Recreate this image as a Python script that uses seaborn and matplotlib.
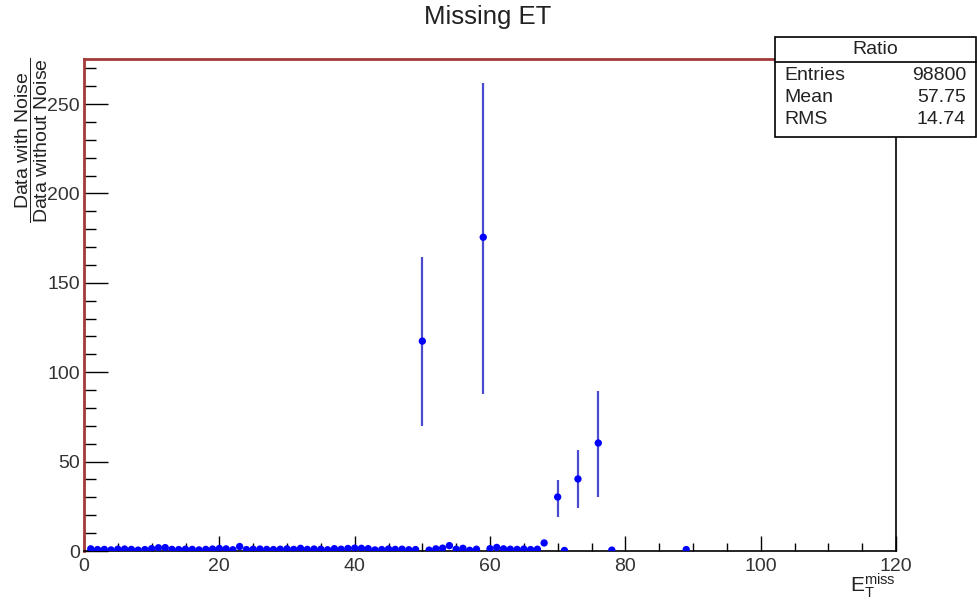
import matplotlib.pyplot as plt
from matplotlib.patches import Rectangle
from matplotlib.ticker import MultipleLocator
import numpy as np
import pandas as pd
import seaborn as sns

# bin centres and ratio values
low_x = list(range(1, 50)) + list(range(51, 59)) + list(range(60, 68))
low_y = [1.2, 0.8, 0.9, 0.6, 1.0, 1.1, 0.9, 0.5, 0.8, 1.3,
         1.8, 1.9, 0.9, 0.8, 1.0, 0.9, 0.6, 0.9, 1.1, 1.4,
         1.2, 0.7, 2.5, 0.8, 1.0, 1.1, 0.9, 0.8, 1.0, 1.2,
         0.9, 1.5, 0.9, 1.1, 1.0, 0.7, 1.3, 1.0, 1.4, 1.6,
         1.5, 1.3, 0.6, 0.8, 1.1, 0.9, 1.0, 0.7, 0.8,
         0.5, 1.2, 1.6, 3.0, 1.0, 1.5, 0.4, 1.0,
         1.3, 2.0, 1.2, 1.0, 0.9, 1.1, 0.8, 1.0]
high_x = [50, 59, 68, 70, 71, 73, 76, 78, 89]
high_y = [117.4, 175.5, 4.5, 30.2, 0.3, 40.3, 60.4, 0.5, 0.8]
err_lo = [69.9, 87.8, 4.5, 19.0, 0.3, 24.0, 30.2, 0.5, 0.8]
err_hi = [164.4, 261.7, 4.5, 39.7, 0.3, 56.5, 89.5, 0.5, 0.8]

stats_names = ["Entries", "Mean", "RMS"]
stats_vals = ["98800", "57.75", "14.74"]

df = pd.DataFrame({"x": low_x + high_x, "y": low_y + high_y})

sns.set_style("white")
plt.rcParams["font.family"] = ["Liberation Sans", "DejaVu Sans"]
plt.rcParams["mathtext.fontset"] = "custom"
plt.rcParams["mathtext.rm"] = "Liberation Sans"
plt.rcParams["mathtext.it"] = "Liberation Sans"

W, H = 977, 601
fig = plt.figure(figsize=(W / 100, H / 100), dpi=100)
ax = fig.add_axes([84 / W, 1 - 551 / H, (896 - 84) / W, (551 - 59) / H])

ax.vlines(high_x, err_lo, err_hi, color="#4a4ad0", linewidth=1.6, zorder=2)
sns.scatterplot(data=df, x="x", y="y", ax=ax, color="#0000ff", s=28,
                edgecolor="none", zorder=3)

ax.set_xlim(0, 120)
ax.set_ylim(0, 275.2)
ax.xaxis.set_major_locator(MultipleLocator(20))
ax.xaxis.set_minor_locator(MultipleLocator(5))
ax.yaxis.set_major_locator(MultipleLocator(50))
ax.yaxis.set_minor_locator(MultipleLocator(10))
ax.tick_params(axis="both", which="both", direction="in", bottom=True,
               left=True, top=False, right=False, color="black")
ax.tick_params(axis="both", which="major", labelsize=14, labelcolor="#333333")
ax.tick_params(axis="x", which="major", length=11, width=1, pad=5)
ax.tick_params(axis="x", which="minor", length=5.5, width=1)
ax.tick_params(axis="y", which="major", length=17.5, width=1, pad=3)
ax.tick_params(axis="y", which="minor", length=8.7, width=1)
ax.set_xlabel("")
ax.set_ylabel("")

for side in ["bottom", "right"]:
    ax.spines[side].set_color("black")
    ax.spines[side].set_linewidth(1.2)
for side in ["left", "top"]:
    ax.spines[side].set_color("#a33a3a")
    ax.spines[side].set_linewidth(2)

fig.text(488 / W, 1 - 17 / H, "Missing ET", ha="center", va="center",
         fontsize=18.5, color="#222222")
fig.text(32 / W, 1 - 140 / H,
         r"$\dfrac{\mathrm{Data\ with\ Noise}}{\mathrm{Data\ without\ Noise}}$",
         rotation=90, ha="center", va="center", fontsize=14, color="#222222")
fig.text(896 / W, 1 - 586 / H, r"$\mathrm{E}_{\mathrm{T}}^{\mathrm{miss}}$",
         ha="right", va="center", fontsize=15, color="#222222")

# stats box
bx0, bx1, by0, by1, bsep = 775, 976, 37, 137, 62
fig.patches.append(Rectangle((bx0 / W, 1 - by1 / H), (bx1 - bx0) / W,
                             (by1 - by0) / H, transform=fig.transFigure,
                             facecolor="white", edgecolor="black",
                             linewidth=1.2, zorder=5))
fig.lines.append(plt.Line2D([bx0 / W, bx1 / W], [1 - bsep / H, 1 - bsep / H],
                            transform=fig.transFigure, color="black",
                            linewidth=1.2, zorder=6))
fig.text((bx0 + bx1) / 2 / W, 1 - 50 / H, "Ratio", ha="center", va="center",
         fontsize=14, color="#222222", zorder=7)
for i, (name, val) in enumerate(zip(stats_names, stats_vals)):
    yy = 1 - (75 + i * 22) / H
    fig.text(784 / W, yy, name, ha="left", va="center", fontsize=14,
             color="#222222", zorder=7)
    fig.text(966 / W, yy, val, ha="right", va="center", fontsize=14,
             color="#222222", zorder=7)

fig.savefig("out.png", dpi=100)
